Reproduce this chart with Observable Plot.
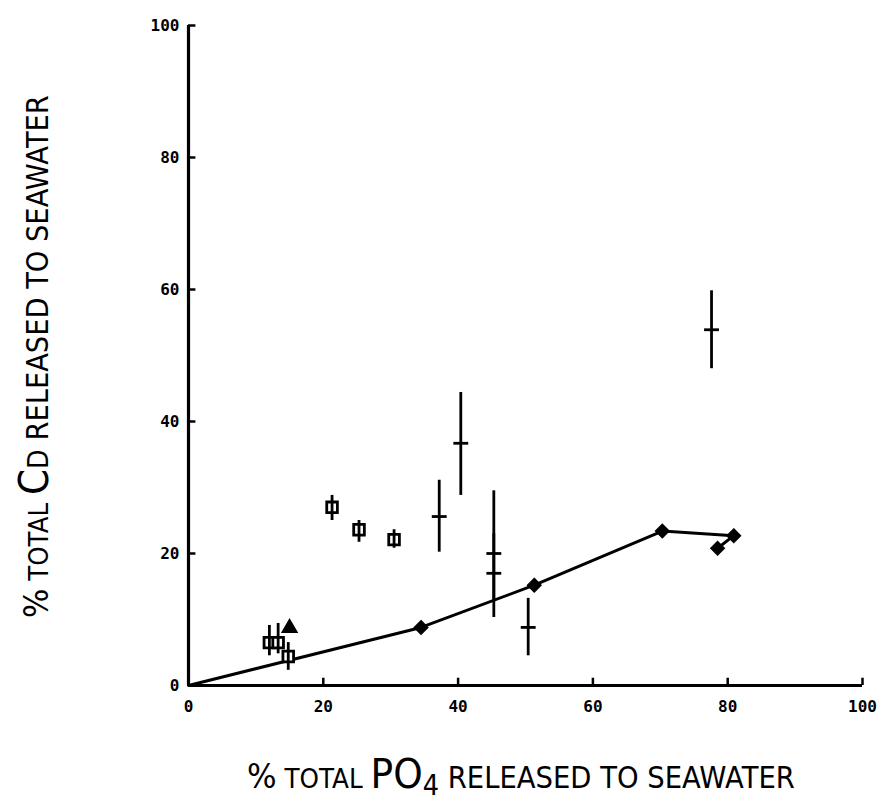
<!DOCTYPE html>
<html>
<head>
<meta charset="utf-8">
<script src="https://cdn.jsdelivr.net/npm/d3@7"></script>
<script src="https://cdn.jsdelivr.net/npm/@observablehq/plot@0.6"></script>
<style>
  body { margin: 0; background: #fff; }
</style>
</head>
<body>
<div id="chart"></div>
<script>
// Diamond series, joined by a line that starts at the origin
const diamondX = [34.5, 51.3, 70.3, 80.9, 78.5];
const diamondY = [8.8, 15.2, 23.4, 22.7, 20.8];

// Open squares with their range bars
const squareX  = [12.0, 13.3, 14.8, 21.3, 25.3, 30.5];
const squareY  = [6.5, 6.5, 4.4, 27.0, 23.6, 22.1];
const squareLo = [4.5, 4.8, 2.3, 25.0, 21.7, 20.8];
const squareHi = [9.1, 9.4, 6.5, 28.8, 25.0, 23.6];

// Crosses: mean tick on a vertical range bar
const crossX  = [37.2, 40.4, 45.3, 45.3, 50.4, 77.6];
const crossY  = [25.6, 36.7, 20.0, 17.0, 8.8, 53.9];
const crossLo = [20.2, 28.8, 13.0, 10.3, 4.5, 48.0];
const crossHi = [31.1, 44.4, 29.5, 23.0, 13.2, 59.8];

// Single filled triangle
const triangleX = [15.0];
const triangleY = [8.7];

// Axis ticks
const tickValues = [0, 20, 40, 60, 80, 100];

const zip = (xs, ys, extra = {}) => xs.map((x, i) => {
  const o = { x, y: ys[i] };
  for (const k in extra) o[k] = extra[k][i];
  return o;
});

const lineData = [{ x: 0, y: 0 }, ...zip(diamondX, diamondY)];
const diamonds = zip(diamondX, diamondY);
const squares = zip(squareX, squareY, { lo: squareLo, hi: squareHi });
const crosses = zip(crossX, crossY, { lo: crossLo, hi: crossHi });
const triangles = zip(triangleX, triangleY);
const innerTicks = tickValues.filter(d => d > 0);

// horizontal dash used as the mean marker on the crosses
const hbar = {
  draw(ctx, size) {
    const w = Math.sqrt(size);
    ctx.moveTo(-w, 0);
    ctx.lineTo(w, 0);
  }
};

const chart = Plot.plot({
  width: 885,
  height: 802,
  marginLeft: 188,
  marginRight: 23,
  marginTop: 25,
  marginBottom: 117,
  x: { domain: [0, 100], label: null },
  y: { domain: [0, 100], label: null },
  style: {
    fontFamily: "'DejaVu Sans Mono', monospace",
    fontWeight: "bold",
    fontSize: "16px",
    color: "black",
    background: "white"
  },
  marks: [
    Plot.axisX(tickValues, { tickSize: 0, tickPadding: 15, label: null }),
    Plot.axisY(tickValues, { tickSize: 0, tickPadding: 9, label: null }),
    // axis lines with inward ticks
    Plot.ruleX([0], { y1: 0, y2: 100, stroke: "black", strokeWidth: 3.2 }),
    Plot.ruleY([0], { x1: 0, x2: 100, stroke: "black", strokeWidth: 3.2 }),
    Plot.ruleX(innerTicks, { x: d => d, y1: 0, y2: 1.1, stroke: "black", strokeWidth: 2.5 }),
    Plot.ruleY(innerTicks, { y: d => d, x1: 0, x2: 1.1, stroke: "black", strokeWidth: 2.5 }),
    // diamond series
    Plot.line(lineData, { x: "x", y: "y", stroke: "black", strokeWidth: 3 }),
    Plot.dot(diamonds, { x: "x", y: "y", symbol: "diamond2", r: 6.2, fill: "black", stroke: "black", strokeWidth: 1.2 }),
    // squares with bars
    Plot.dot(squares, { x: "x", y: "y", symbol: "square", r: 6, fill: "white", stroke: "black", strokeWidth: 2.8 }),
    Plot.ruleX(squares, { x: "x", y1: "lo", y2: "hi", stroke: "black", strokeWidth: 2.8 }),
    // crosses
    Plot.ruleX(crosses, { x: "x", y1: "lo", y2: "hi", stroke: "black", strokeWidth: 2.8 }),
    Plot.dot(crosses, { x: "x", y: "y", symbol: hbar, r: 4.2, fill: "none", stroke: "black", strokeWidth: 2.8 }),
    // triangle
    Plot.dot(triangles, { x: "x", y: "y", symbol: "triangle", r: 5.5, fill: "black", stroke: "black" })
  ]
});

document.getElementById("chart").appendChild(chart);

// axis titles with mixed-size caps and a subscript, squeezed to a narrow width
const svg = d3.select(chart);
const titleFont = "'DejaVu Sans', 'Liberation Sans', sans-serif";

function title(parts, transform, length) {
  const g = svg.append("g");
  const t = g.append("text")
    .attr("x", 0)
    .attr("y", 0)
    .attr("text-anchor", "start")
    .attr("fill", "black")
    .style("font-family", titleFont)
    .style("font-weight", "normal");
  for (const [txt, size, dy] of parts) {
    const s = t.append("tspan").attr("font-size", size).text(txt);
    if (dy) s.attr("dy", dy);
  }
  const w = t.node().getComputedTextLength();
  g.attr("transform", `${transform} scale(${length / w},1)`);
}

title([
  ["%", 34], [" TOTAL ", 27], ["PO", 41], ["4", 28, 7], [" RELEASED TO SEAWATER", 30, -7]
], "translate(247,788)", 548);

title([
  ["%", 34], [" TOTAL ", 27], ["C", 41], ["D", 28], [" RELEASED TO SEAWATER", 30]
], "translate(48,618) rotate(-90)", 523);
</script>
</body>
</html>
